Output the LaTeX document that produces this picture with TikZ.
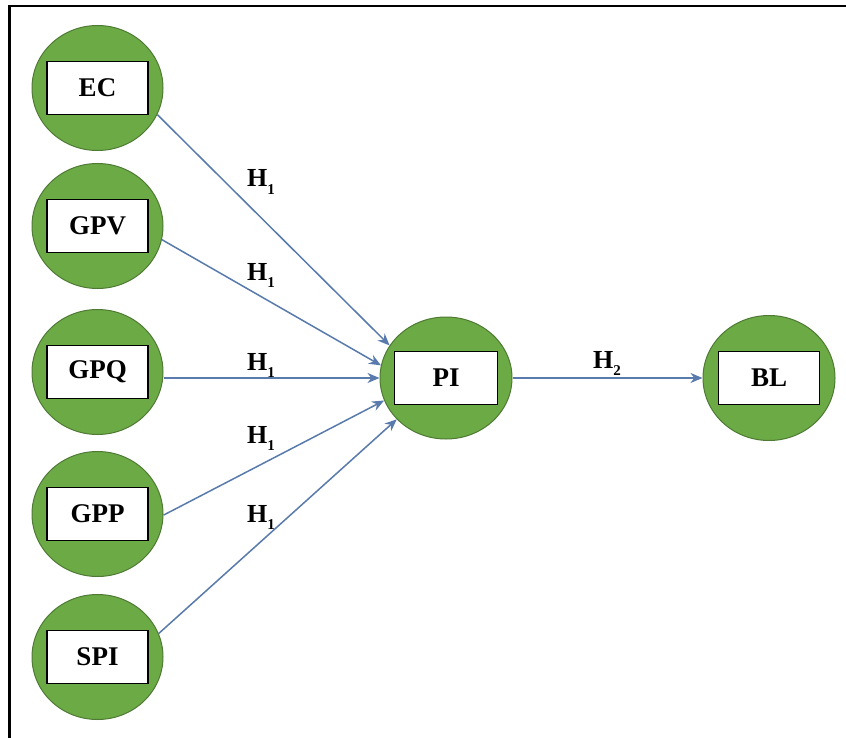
\documentclass[tikz,border=0pt]{standalone}
\usepackage{fontspec}
\setmainfont{Liberation Serif}
\usetikzlibrary{shapes.geometric,arrows.meta}

\definecolor{constructgreen}{RGB}{108,170,70}
\definecolor{constructedge}{RGB}{78,122,52}
\definecolor{pathblue}{RGB}{88,122,172}

% hypothesis label with a small, low index
\newcommand{\hypo}[1]{H\raisebox{-0.28em}{\fontsize{15}{18}\selectfont #1}}

\tikzset{
  construct/.style={ellipse, fill=constructgreen, draw=constructedge, line width=1pt,
    minimum width=131pt, minimum height=125pt, inner sep=0pt},
  namebox/.style={rectangle, fill=white, draw=black, line width=1.6pt,
    minimum width=101pt, minimum height=53pt, inner sep=0pt,
    font=\fontsize{27}{32}\selectfont\bfseries},
  path arrow/.style={draw=pathblue, line width=1.5pt,
    -{Stealth[length=12pt,width=10pt]}},
  hyp/.style={anchor=base west, inner sep=0pt, font=\fontsize{26}{30}\selectfont\bfseries}
}

\begin{document}
\begin{tikzpicture}[x=1pt,y=-1pt]
  \useasboundingbox[fill=white] (0,0) rectangle (846,738);

  % frame (top and left edges)
  \draw[line width=2.5pt] (846,6) -- (9.5,6) -- (9.5,738);

  % exogenous constructs
  \node[construct] (EC)  at (97.5,88)  {};
  \node[construct] (GPV) at (97.5,226) {};
  \node[construct] (GPQ) at (97.5,372) {};
  \node[construct] (GPP) at (97.5,514) {};
  \node[construct] (SPI) at (97.5,657) {};
  % mediator and outcome
  \node[construct, minimum width=132pt, minimum height=122pt] (PI) at (446,378) {};
  \node[construct, minimum width=132pt, minimum height=125pt] (BL) at (769,378) {};

  % construct labels
  \node[namebox] (ECb)  at (EC)  {EC};
  \node[namebox] (GPVb) at (GPV) {GPV};
  \node[namebox] (GPQb) at (GPQ) {GPQ};
  \node[namebox] (GPPb) at (GPP) {GPP};
  \node[namebox] (SPIb) at (SPI) {SPI};
  \node[namebox, minimum width=103pt] (PIb) at (PI) {PI};
  \node[namebox] (BLb)  at (BL)  {BL};

  % hypothesised paths
  \draw[path arrow] (EC.-24)  -- (PI.150);
  \draw[path arrow] (GPV.-12) -- (PI.169);
  \draw[path arrow] (GPQ.east |- PI.west) -- (PI.west);
  \draw[path arrow] (GPP.-1)  -- (PI.200);
  \draw[path arrow] (SPI.21)  -- (PI.220);
  \draw[path arrow] (PI.east) -- (BL.west);

  % path labels
  \node[hyp] (h1a) at (247,187) {\hypo{1}};
  \node[hyp] (h1b) at (247,280) {\hypo{1}};
  \node[hyp] (h1c) at (247,370) {\hypo{1}};
  \node[hyp] (h1d) at (247,443) {\hypo{1}};
  \node[hyp] (h1e) at (247,522) {\hypo{1}};
  \node[hyp] (h2)  at (593,368) {\hypo{2}};
\end{tikzpicture}
\end{document}
